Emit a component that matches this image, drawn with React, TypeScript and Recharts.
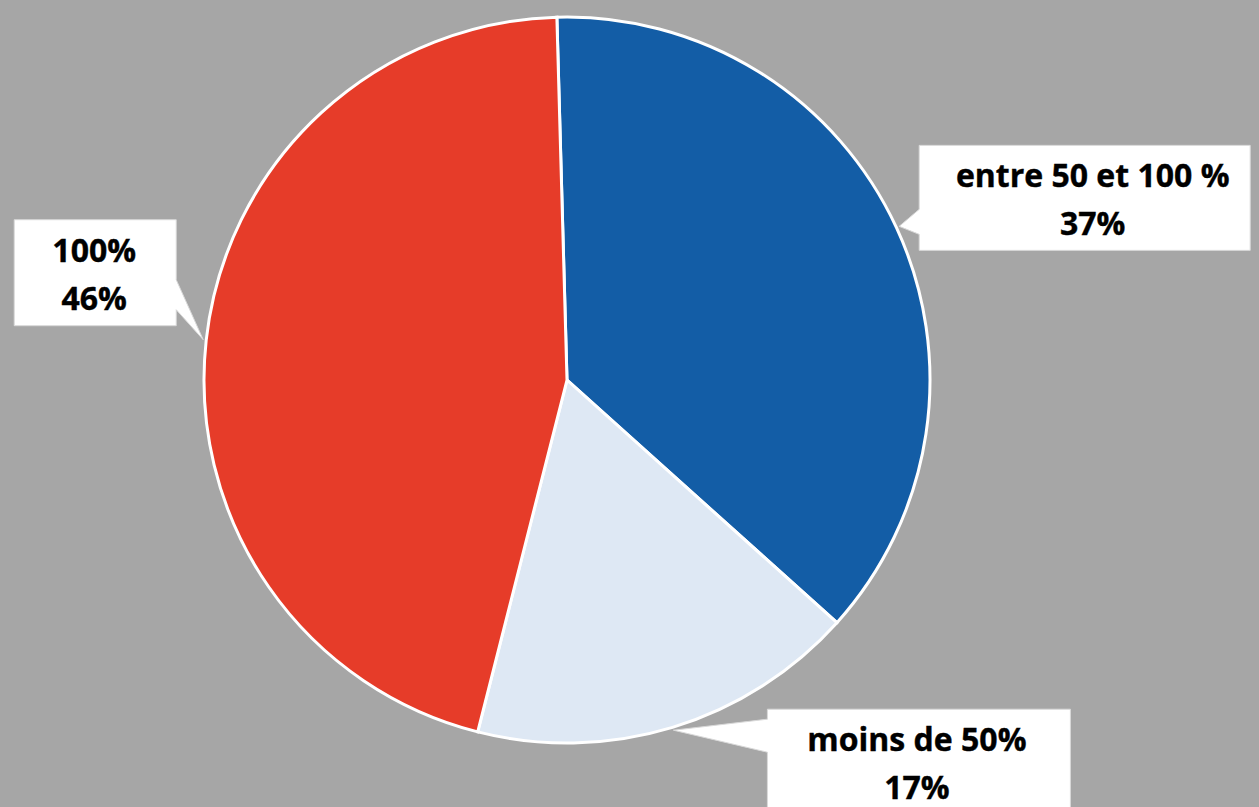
import { PieChart, Pie, Cell } from "recharts";

const categories = ["entre 50 et 100 %", "moins de 50%", "100%"];
const shares = [37.1, 17.3, 45.6];
const percentLabels = ["37%", "17%", "46%"];

const COLORS = ["#135DA6", "#DEE8F4", "#E63C29"];
const RADIAN = Math.PI / 180;

// callout box placement relative to the pointer tip on the pie edge
const callouts = [
  { dx: 20, dy: -81, w: 331, h: 105, side: "left", p0: 64, p1: 89, tdx: 8 },
  { dx: 94, dy: -21, w: 303, h: 108, side: "left", p0: 10, p1: 43, tdx: -2 },
  { dx: -189, dy: -120, w: 162, h: 106, side: "right", p0: 60, p1: 90, tdx: -1 },
];

const data = categories.map((name, i) => ({
  name,
  value: shares[i],
  pct: percentLabels[i],
}));

const textStyle = {
  fontFamily: "'Open Sans', sans-serif",
  fontWeight: 700,
  fontSize: 32,
  fill: "#000000",
  stroke: "#000000",
  strokeWidth: 0.4,
};

function renderCallout(props: any) {
  const { cx, cy, midAngle, outerRadius, index, name, payload } = props;
  const r = outerRadius + 3;
  const tx = cx + r * Math.cos(-midAngle * RADIAN);
  const ty = cy + r * Math.sin(-midAngle * RADIAN);
  const c = callouts[index];
  const x0 = tx + c.dx;
  const y0 = ty + c.dy;
  const x1 = x0 + c.w;
  const y1 = y0 + c.h;
  let d: string;
  if (c.side === "left") {
    d = `M${x0},${y0} L${x1},${y0} L${x1},${y1} L${x0},${y1} L${x0},${y0 + c.p1} L${tx},${ty} L${x0},${y0 + c.p0} Z`;
  } else {
    d = `M${x0},${y0} L${x1},${y0} L${x1},${y0 + c.p0} L${tx},${ty} L${x1},${y0 + c.p1} L${x1},${y1} L${x0},${y1} Z`;
  }
  const mx = (x0 + x1) / 2 + c.tdx;
  return (
    <g key={`callout-${index}`}>
      <path d={d} fill="#FFFFFF" stroke="#D9D9D9" strokeWidth={1} />
      <text x={mx} y={y0 + 42} textAnchor="middle" {...textStyle}>
        {name}
      </text>
      <text x={mx} y={y0 + 90} textAnchor="middle" {...textStyle}>
        {payload.pct}
      </text>
    </g>
  );
}

export default function App() {
  return (
    <div style={{ position: "fixed", left: 0, top: 0, width: 1259, height: 807, background: "#A6A6A6" }}>
      <PieChart width={1259} height={807} margin={{ top: 0, right: 0, bottom: 0, left: 0 }}>
        <Pie
          data={data}
          dataKey="value"
          nameKey="name"
          cx={567}
          cy={380}
          outerRadius={363}
          startAngle={91.6}
          endAngle={-268.4}
          stroke="#FFFFFF"
          strokeWidth={3}
          label={renderCallout}
          labelLine={false}
          isAnimationActive={false}
        >
          {data.map((entry, index) => (
            <Cell key={`cell-${index}`} fill={COLORS[index]} />
          ))}
        </Pie>
      </PieChart>
    </div>
  );
}
